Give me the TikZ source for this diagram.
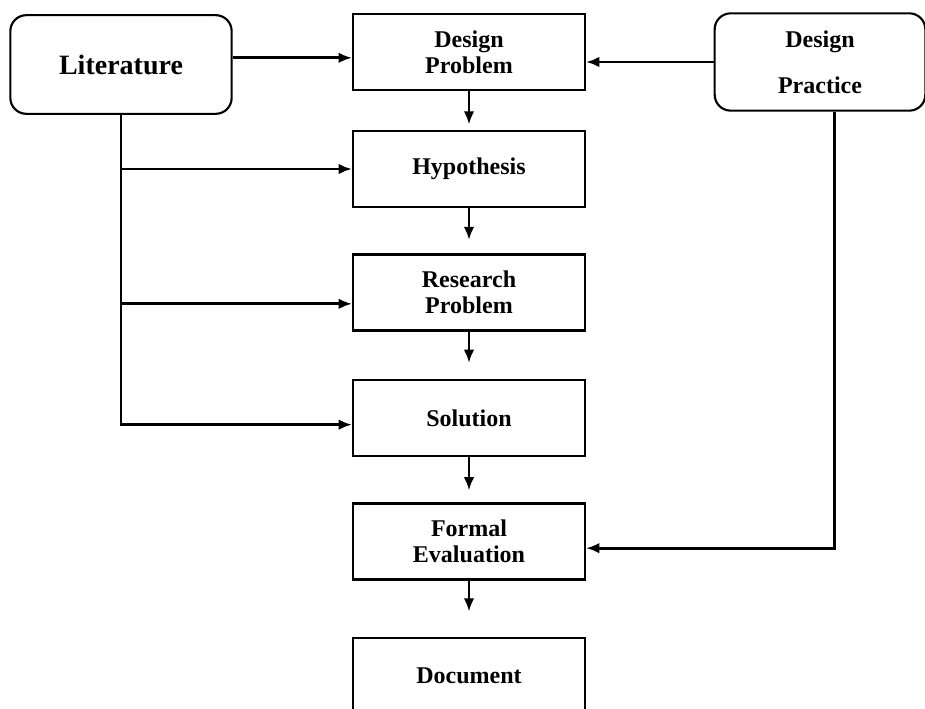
\documentclass[tikz,border=0pt]{standalone}
\usepackage{fontspec}
\setmainfont{Liberation Serif}
\usetikzlibrary{shapes,arrows.meta,positioning}
\tikzstyle{arrow} = [line width=2.1pt,->,>={Latex[length=10pt,width=8pt]}]
\tikzstyle{stepbox} = [draw,line width=1.6pt,minimum width=174pt,minimum height=57pt,align=center,font=\fontsize{18}{19.5}\selectfont\bfseries]
\tikzstyle{source} = [draw,line width=1.6pt,rounded corners=12pt,align=center,font=\fontsize{18}{19.5}\selectfont\bfseries]

\begin{document}
\begin{tikzpicture}[x=0.75pt,y=-0.75pt]
  \useasboundingbox (0,0) rectangle (925,709);
  % sources
  \node[source,minimum width=166pt,minimum height=74pt,font=\fontsize{21}{24}\selectfont\bfseries] (lit) at (121,64.5) {Literature};
  \node[source,minimum width=158pt,minimum height=73pt,font=\fontsize{18}{34.5}\selectfont\bfseries] (dprac) at (820,62) {Design\\Practice};
  % main column
  \node[stepbox] (dprob) at (469,52) {Design\\Problem};
  \node[stepbox] (hyp) at (469,169) {Hypothesis};
  \node[stepbox] (res) at (469,292.5) {Research\\Problem};
  \node[stepbox] (sol) at (469,418) {Solution};
  \node[stepbox] (feval) at (469,541.5) {Formal\\Evaluation};
  \node[stepbox] (doc) at (469,676) {Document};
  \foreach \a/\b/\g in {dprob/hyp/4pt,hyp/res/10pt,res/sol/12pt,sol/feval/9pt,feval/doc/19pt}
    \draw[arrow,shorten >=\g] (\a.south) -- (\b.north);
  % literature feeds
  \coordinate (resin) at ([yshift=-8.5pt]res.west);
  \coordinate (solin) at ([yshift=-5pt]sol.west);
  \draw[arrow] ([yshift=5pt]lit.east) -- ([yshift=5pt]lit.east -| dprob.west);
  \draw[arrow] (lit.south) |- (solin);
  \draw[arrow] (lit.south |- hyp.west) -- (hyp.west);
  \draw[arrow] (lit.south |- resin) -- (resin);
  % practice feeds
  \draw[arrow] (dprac.west) -- (dprac.west -| dprob.east);
  \draw[arrow] ([xshift=11pt]dprac.south) |- ([yshift=-5pt]feval.east);
\end{tikzpicture}
\end{document}
